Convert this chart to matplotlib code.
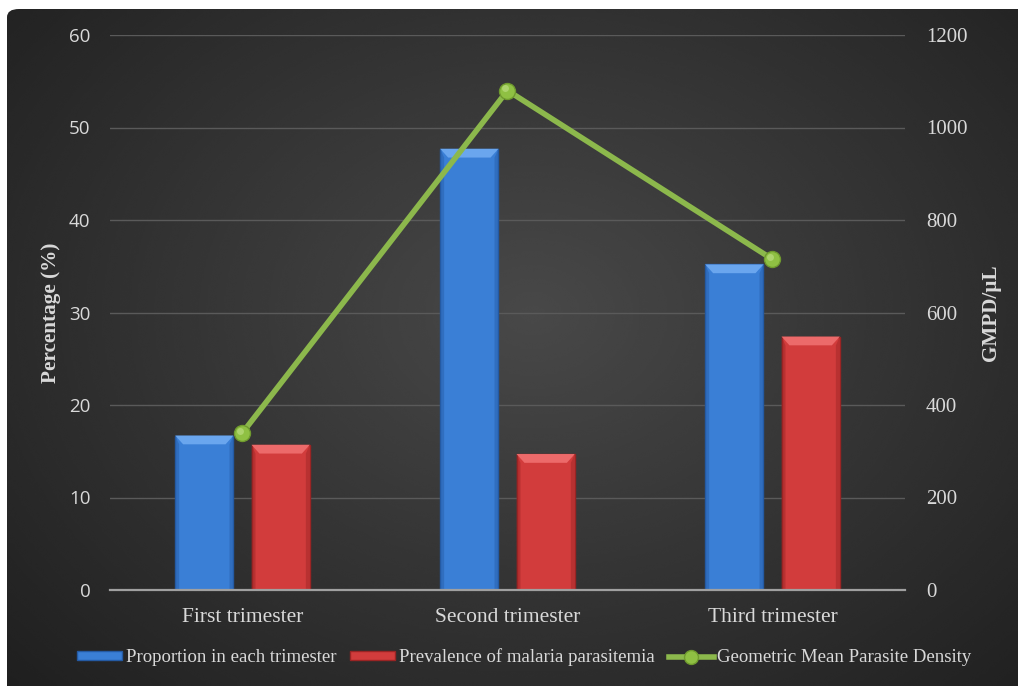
import numpy as np
import matplotlib.pyplot as plt
import matplotlib.transforms as mtransforms
from matplotlib.patches import Polygon, Rectangle, FancyBboxPatch
from matplotlib.lines import Line2D

categories = ['First trimester', 'Second trimester', 'Third trimester']
proportion = [16.7, 47.7, 35.2]
prevalence = [15.7, 14.7, 27.4]
gmpd = [340, 1080, 715]

left_ticks = [0, 10, 20, 30, 40, 50, 60]
right_ticks = [0, 200, 400, 600, 800, 1000, 1200]

txt = '#d9d9d9'
serif = ['Liberation Serif', 'DejaVu Serif']
sans = ['Open Sans', 'DejaVu Sans']

fig = plt.figure(figsize=(10.18, 6.86), dpi=100)
fig.patch.set_facecolor('white')

# dark gradient panel behind everything
bg = fig.add_axes([7 / 1018, 0, 1011 / 1018, 677 / 686], zorder=-5)
bg.set_axis_off()
yy, xx = np.mgrid[0:1:300j, 0:1:450j]
r = np.sqrt(((xx - 0.52) / 0.75) ** 2 + ((yy - 0.45) / 0.85) ** 2)
shade = np.clip(0.285 - 0.17 * r, 0.12, 0.29)
img = bg.imshow(shade, cmap='gray', vmin=0, vmax=1, extent=[0, 1, 0, 1],
                aspect='auto', interpolation='bicubic')
clip = FancyBboxPatch((0, -0.2), 1.2, 1.2, boxstyle='round,pad=0,rounding_size=0.012',
                      transform=bg.transAxes, facecolor='none', edgecolor='none')
bg.add_patch(clip)
img.set_clip_path(clip)
bg.set_xlim(0, 1)
bg.set_ylim(0, 1)

ax = fig.add_axes([110 / 1018, 96 / 686, 795 / 1018, 555 / 686])
ax.patch.set_alpha(0)
x = np.arange(len(categories))
w = 0.22
off = 0.144

def bevel_bars(xs, vals, base, light, dark):
    bars = ax.bar(xs, vals, w, color=base, edgecolor=dark, linewidth=1.0, zorder=3)
    dx = 0.03
    dy = 0.95
    for b in bars:
        x0 = b.get_x()
        x1 = x0 + b.get_width()
        top = b.get_height()
        ax.add_patch(Polygon([(x0, top), (x1, top), (x1 - dx, top - dy), (x0 + dx, top - dy)],
                             closed=True, facecolor=light, edgecolor='none', zorder=4))
        ax.add_patch(Polygon([(x0, 0), (x0, top), (x0 + dx * 0.5, top - dy), (x0 + dx * 0.5, 0)],
                             closed=True, facecolor=dark, edgecolor='none', alpha=0.45, zorder=4))
        ax.add_patch(Polygon([(x1, 0), (x1, top), (x1 - dx * 0.5, top - dy), (x1 - dx * 0.5, 0)],
                             closed=True, facecolor=dark, edgecolor='none', alpha=0.45, zorder=4))
    return bars

b1 = bevel_bars(x - off, proportion, '#3a7fd6', '#6aa6ee', '#245aa3')
b2 = bevel_bars(x + off, prevalence, '#d23c3c', '#ec6a6a', '#9a2424')

ax.set_xlim(-0.5, 2.5)
ax.set_ylim(0, 60)
ax.set_yticks(left_ticks)
ax.set_xticks(x)
ax.set_xticklabels(categories, fontfamily=serif, fontsize=15.5, color=txt)
for lab in ax.get_yticklabels():
    lab.set_fontfamily(sans)
    lab.set_fontsize(13.5)
    lab.set_color(txt)
ax.tick_params(axis='both', length=0)
ax.tick_params(axis='x', pad=13)
ax.tick_params(axis='y', pad=14)
ax.grid(axis='y', color='#5a5a5a', linewidth=1.0, zorder=0)
ax.set_axisbelow(True)
for s in ['top', 'right', 'left']:
    ax.spines[s].set_visible(False)
ax.spines['bottom'].set_color('#a0a0a0')
ax.spines['bottom'].set_linewidth(1.6)
ax.spines['bottom'].set_zorder(5)
ax.set_ylabel('Percentage (%)', fontfamily=serif, fontweight='bold', fontsize=15.3,
              color=txt, labelpad=6)

ax2 = ax.twinx()
ax2.patch.set_alpha(0)
ax2.plot(x, gmpd, color='#8cb84c', linewidth=4.0, zorder=6, solid_capstyle='round')
ax2.plot(x, gmpd, linestyle='none', marker='o', markersize=11.5,
         markerfacecolor='#8fc043', markeredgecolor='#6f9a2e', markeredgewidth=1, zorder=7)
hl = mtransforms.offset_copy(ax2.transData, fig=fig, x=-1.5, y=1.5, units='points')
ax2.plot(x, gmpd, linestyle='none', marker='o', markersize=5, transform=hl,
         markerfacecolor='#b5d978', markeredgecolor='none', alpha=0.8, zorder=8)
ax2.set_ylim(0, 1200)
ax2.set_yticks(right_ticks)
for lab in ax2.get_yticklabels():
    lab.set_fontfamily(serif)
    lab.set_fontsize(15)
    lab.set_color(txt)
ax2.tick_params(axis='y', length=0, pad=15)
for s in ax2.spines.values():
    s.set_visible(False)
ax2.set_ylabel('GMPD/µL', fontfamily=serif, fontweight='bold', fontsize=15.2,
               color=txt, labelpad=10)

handles = [
    Rectangle((0, 0), 1, 1, facecolor='#3a7fd6', edgecolor='#245aa3'),
    Rectangle((0, 0), 1, 1, facecolor='#d23c3c', edgecolor='#9a2424'),
    Line2D([], [], color='#8cb84c', linewidth=4.0, marker='o', markersize=10,
           markerfacecolor='#8fc043', markeredgecolor='#6f9a2e'),
]
labels = ['Proportion in each trimester', 'Prevalence of malaria parasitemia',
          'Geometric Mean Parasite Density']
leg = fig.legend(handles, labels, loc='center', bbox_to_anchor=(0.515, 0.042), ncol=3,
                 frameon=False, prop={'family': serif, 'size': 13.5}, labelcolor=txt,
                 handlelength=2.4, handleheight=0.35, handletextpad=0.2, columnspacing=0.75)

fig.savefig('out.png', dpi=100, facecolor='white')
